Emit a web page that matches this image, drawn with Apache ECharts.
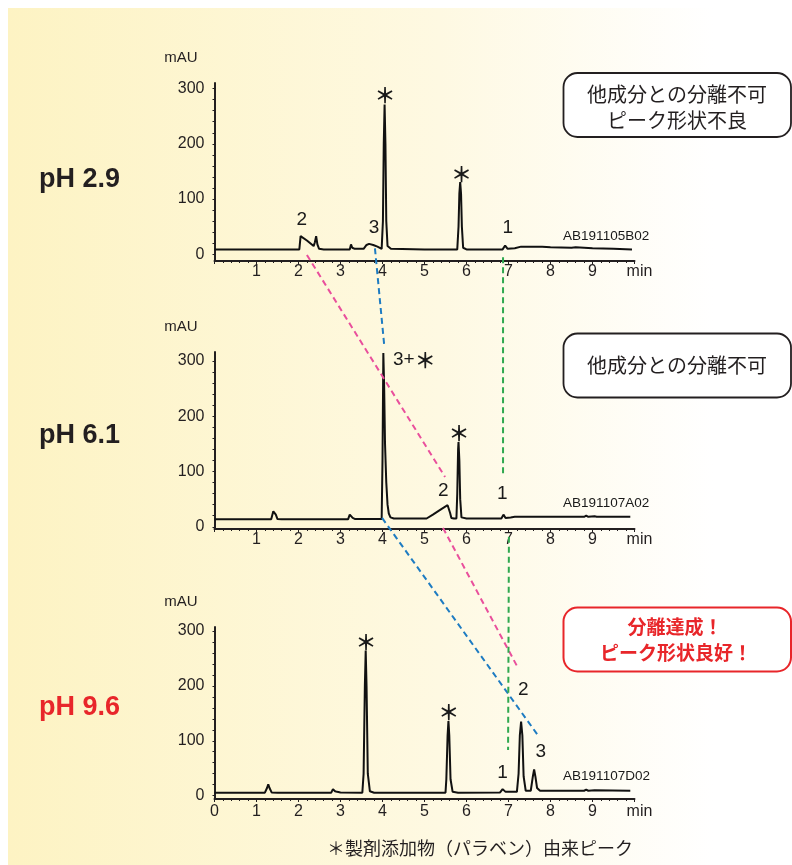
<!DOCTYPE html>
<html><head><meta charset="utf-8">
<script src="https://cdn.jsdelivr.net/npm/echarts@6/dist/echarts.min.js"></script>
<style>html,body{margin:0;padding:0;background:#fff}#c{width:792px;height:865px}</style>
</head><body><div id="c"></div>
<script>
// ---- data ----
const xTicksTop = [1,2,3,4,5,6,7,8,9];
const xTicksBottom = [0,1,2,3,4,5,6,7,8,9];
const yTickLabels = [0,100,200,300];
const yMinorTicks = [0,20,40,60,80,100,120,140,160,180,200,220,240,260,280,300];
const phLabels = ['pH 2.9','pH 6.1','pH 9.6'];
const runIds = ['AB191105B02','AB191107A02','AB191107D02'];

// chromatogram pH 2.9 : [min, mAU]
const trace29 = [[0,9],[1.0,9],[1.8,9],[2.02,9],[2.05,33],[2.08,34.5],[2.2,25],[2.36,15],[2.39,22],[2.42,33],[2.45,18],[2.49,10],[2.6,9],[3.0,9],[3.22,9],[3.25,18],[3.28,12],[3.31,13],[3.34,10],[3.55,10],[3.62,17],[3.68,19],[3.78,17],[3.88,14],[3.98,10],[4.01,60],[4.03,200],[4.05,271],[4.07,200],[4.09,60],[4.12,15],[4.2,10],[5.0,9],[5.78,9],[5.81,50],[5.83,110],[5.85,131],[5.87,110],[5.89,50],[5.92,12],[6.0,9],[6.86,9],[6.92,16],[6.98,10],[7.15,11],[7.3,14],[7.8,14],[8.0,13],[8.5,12],[8.6,13],[9.0,11],[9.5,10],[9.94,9]];
// chromatogram pH 6.1
const trace61 = [[0,13.5],[1.35,13.5],[1.4,28],[1.43,31],[1.46,22],[1.5,14],[1.6,13.5],[3.18,13.5],[3.22,22],[3.25,24],[3.29,16],[3.35,14],[3.98,14],[4.0,120],[4.02,314],[4.04,250],[4.06,150],[4.09,80],[4.12,40],[4.15,24],[4.19,17],[4.27,15],[5.05,15],[5.2,22],[5.4,32],[5.55,39],[5.58,40],[5.61,25],[5.64,16],[5.7,15],[5.76,15],[5.78,60],[5.8,140],[5.81,153],[5.83,120],[5.85,50],[5.88,17],[6.0,15],[6.83,15],[6.88,22],[6.93,16],[7.05,17],[7.15,18],[8.0,18],[8.8,18],[8.85,20],[8.9,18],[9.05,19],[9.1,18],[9.9,18]];
// chromatogram pH 9.6
const trace96 = [[0,5.5],[1.2,5.5],[1.25,14],[1.28,20.5],[1.31,14],[1.36,6],[1.5,5.5],[2.78,5.5],[2.82,12],[2.84,13],[2.87,8],[2.92,7],[2.96,8],[3.0,6],[3.52,5.5],[3.55,40],[3.58,200],[3.6,264],[3.62,200],[3.65,40],[3.7,8],[3.8,5.5],[5.5,5.5],[5.52,30],[5.55,110],[5.57,136],[5.59,110],[5.62,30],[5.67,7],[5.8,5.5],[6.8,6],[6.86,12],[6.89,13],[6.93,7],[7.2,7],[7.24,40],[7.27,110],[7.3,135],[7.33,110],[7.36,35],[7.41,9],[7.53,9],[7.58,35],[7.61,48],[7.64,35],[7.68,14],[7.75,9],[8.0,9],[8.8,9],[8.85,11],[8.9,9],[9.05,10],[9.9,9]];

// peak annotations: [min, mAU, text]
const peaks29 = [[2.08,62,'2'],[3.80,48,'3'],[4.06,288,'＊'],[5.88,145,'＊'],[6.98,48,'1']];
const peaks61 = [[5.82,169,'＊'],[5.45,66,'2'],[6.85,59,'1']];
const peaks61Left = [[4.25,302,'3+＊']];
const peaks96 = [[3.61,279,'＊'],[5.58,153,'＊'],[6.86,41,'1'],[7.35,192,'2'],[7.77,80,'3']];
const runIdPos = [[8.3,33],[8.3,42],[8.3,36]];

// dashed guide lines: [panel, min, mAU] -> [panel, min, mAU]
const pinkLinks  = [[[0,2.20,-1],[1,5.49,90]], [[1,5.44,-2],[2,7.23,232]]];
const blueLinks  = [[[0,3.82,11],[1,4.04,329]], [[1,3.99,16],[2,7.70,110]]];
const greenLinks = [[[0,6.87,-5],[1,6.87,97]], [[1,7.01,-18],[2,6.99,83]]];

// ---- layout ----
const grids = [
  {left:214.5, top:83,  width:420, height:178, ymin:-12, ymax:310},
  {left:214.5, top:352, width:420, height:177, ymin:-4,  ymax:316},
  {left:214.5, top:627, width:420, height:172, ymin:-6,  ymax:307}
];
const INK = '#231f20';
const RED = '#e8262a';
const NUM = '"Liberation Sans", Arial, sans-serif';
const JP = '"Noto Sans CJK JP", sans-serif';

const chart = echarts.init(document.getElementById('c'), null, {renderer:'canvas'});

const xAxes = grids.map((g,i)=>({
  gridIndex:i, type:'value', min:0, max:10, interval:1,
  axisLine:{show:true, onZero:false, lineStyle:{color:INK, width:2}},
  axisTick:{show:true, length:3, lineStyle:{color:INK, width:1}},
  minorTick:{show:true, splitNumber:5, length:2, lineStyle:{color:INK, width:1}},
  splitLine:{show:false},
  axisLabel:{customValues: i===2 ? xTicksBottom : xTicksTop, color:INK, fontSize:16, fontFamily:NUM, margin: i===2 ? 5 : 3},
  name:'min', nameLocation:'end', nameGap:5,
  nameTextStyle:{color:INK, fontSize:16, fontFamily:NUM, align:'center', verticalAlign:'top', padding:[i===2?5:3,0,0,0]}
}));
const yAxes = grids.map((g,i)=>({
  gridIndex:i, type:'value', min:g.ymin, max:g.ymax,
  axisLine:{show:true, onZero:false, lineStyle:{color:INK, width:2}},
  axisTick:{show:true, customValues:yMinorTicks, length:2, lineStyle:{color:INK, width:1}},
  splitLine:{show:false},
  axisLabel:{customValues:yTickLabels, color:INK, fontSize:16, fontFamily:NUM, margin:10},
  name:'mAU', nameLocation:'end', nameGap:18,
  nameTextStyle:{color:INK, fontSize:15, fontFamily:NUM, align:'right', padding:[0,17,0,0]}
}));

const traces = [trace29, trace61, trace96];
const peakSets = [peaks29, peaks61, peaks96];
const series = [];
traces.forEach((t,i)=>{
  series.push({type:'line', xAxisIndex:i, yAxisIndex:i, data:t, symbol:'none', z:3,
    lineStyle:{color:'#111', width:2}, silent:true});
});
function labelSeries(i, items, align, font, size){
  return {type:'scatter', xAxisIndex:i, yAxisIndex:i, symbolSize:1, z:4, silent:true,
    itemStyle:{color:'#000', opacity:0},
    data: items.map(p=>[p[0],p[1],p[2]]),
    label:{show:true, position:'inside', formatter:pp=>String(pp.data[2]).replace('＊','{s|＊}'),
      color:'#1a1a1a', opacity:1, textBorderWidth:0, fontSize:size,
      fontFamily:font, align:align, verticalAlign:'middle',
      rich:{s:{fontFamily:JP, fontWeight:'bold', fontSize:21, color:'#1a1a1a', textBorderWidth:0}}}};
}
peakSets.forEach((ps,i)=>{ series.push(labelSeries(i, ps, 'center', NUM, 19)); });
series.push(labelSeries(1, peaks61Left, 'left', NUM, 19));
runIds.forEach((id,i)=>{
  series.push(labelSeries(i, [[runIdPos[i][0], runIdPos[i][1], id]], 'left', NUM, 13.5));
});

chart.setOption({
  animation:false,
  backgroundColor:'#ffffff',
  grid: grids.map(g=>({left:g.left, top:g.top, width:g.width, height:g.height})),
  xAxis:xAxes, yAxis:yAxes, series:series
});

// ---- decorations ----
function txt(x,y,text,font,fill,align){
  return {type:'text', x:x, y:y, z:20, silent:true,
    style:{text:text, font:font, fill:fill, align:align||'center', verticalAlign:'middle',
      textAlign:align||'center', textVerticalAlign:'middle'}};
}
const els = [];
els.push({type:'rect', z:-10, silent:true, shape:{x:8, y:8, width:784, height:857},
  style:{fill:new echarts.graphic.LinearGradient(0,0,1,0,[
    {offset:0, color:'#fdf3c3'},{offset:0.55, color:'#fef9e2'},{offset:0.9, color:'#ffffff'},{offset:1, color:'#ffffff'}])}});
// pH labels
const phY = [180, 436, 708];
phLabels.forEach((t,i)=>{
  els.push(txt(39, phY[i], t, 'bold 27px ' + NUM, i===2 ? RED : INK, 'left'));
});
// boxes
function box(y,h,stroke,lw){
  return {type:'rect', z:15, silent:true, shape:{x:563.5, y:y, width:227.5, height:h, r:14},
    style:{fill:'#ffffff', stroke:stroke, lineWidth:lw}};
}
els.push(box(73, 64, INK, 1.8));
els.push(txt(677, 94, '他成分との分離不可', '20px ' + JP, INK));
els.push(txt(677, 120, 'ピーク形状不良', '20px ' + JP, INK));
els.push(box(333.5, 64, INK, 1.8));
els.push(txt(677, 365, '他成分との分離不可', '20px ' + JP, INK));
els.push(box(607.5, 64, RED, 2));
els.push(txt(675, 627, '分離達成！', 'bold 19px ' + JP, RED));
els.push(txt(676, 653, 'ピーク形状良好！', 'bold 19px ' + JP, RED));
// caption
els.push(txt(480, 848, '＊製剤添加物（パラベン）由来ピーク', '18px ' + JP, INK));
// dashed guides via axis scales
function addLinks(list, color){
  list.forEach(l=>{
    const a = chart.convertToPixel({gridIndex:l[0][0]}, [l[0][1], l[0][2]]);
    const b = chart.convertToPixel({gridIndex:l[1][0]}, [l[1][1], l[1][2]]);
    els.push({type:'line', z:10, silent:true, shape:{x1:a[0], y1:a[1], x2:b[0], y2:b[1]},
      style:{stroke:color, lineWidth:2, lineDash:[6,4]}});
  });
}
addLinks(pinkLinks, '#e94f9c');
addLinks(blueLinks, '#1e7cc2');
addLinks(greenLinks, '#2fa84f');

chart.setOption({graphic:{elements:els}});
</script>
</body></html>
